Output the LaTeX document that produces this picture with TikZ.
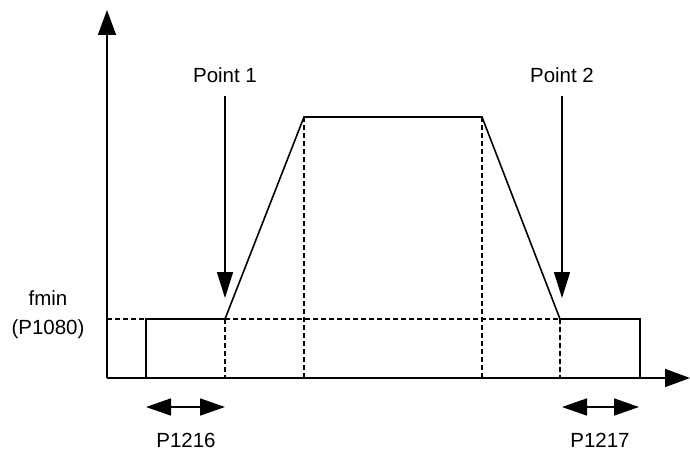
\documentclass[tikz,border=0pt]{standalone}
\usepackage{fontspec}
\setmainfont{Liberation Sans}
\usetikzlibrary{arrows.meta}
\begin{document}
\begin{tikzpicture}[x=1pt,y=-1pt,line width=1.6pt,font=\fontsize{20.5}{29}\selectfont,
	bigtip/.style={-{Triangle[length=25pt 0 0,width=18pt 0 0]}},
	ptip/.style={-{Triangle[length=26pt 0 0,width=16pt 0 0]}},
	span/.style={{Triangle[length=25pt 0 0,width=17pt 0 0]}-{Triangle[length=25pt 0 0,width=17pt 0 0]}},
	guide/.style={dash pattern=on 5pt off 3pt,line width=1.3pt}]
	\useasboundingbox (0,0) rectangle (690,452);
	\path (107,378) coordinate (O)
	(107,10) coordinate (Y)
	(690,378) coordinate (X)
	(107,319) coordinate (F)
	(146,319) coordinate (A) (146,378) coordinate (A_0)
	(225,319) coordinate (B) (225,378) coordinate (B_0)
	(304,117) coordinate (C) (304,378) coordinate (C_0)
	(482,117) coordinate (D) (482,378) coordinate (D_0)
	(560,319) coordinate (E) (560,378) coordinate (E_0)
	(640,319) coordinate (G) (640,378) coordinate (G_0);
	% axes
	\draw[bigtip] (O)--(Y);
	\draw[bigtip] (O)--(X);
	% profile
	\draw (A_0)--(A)--(B)--(C)--(D)--(E)--(G)--(G_0);
	\draw[guide] (F)--(A) (B)--(E);
	\foreach \x in {B,C,D,E}{
		\draw[guide] (\x)--(\x_0);
	}
	% labels
	\node[align=center] (fmin) at (48,315) {fmin\\(P1080)};
	\node (pt1) at (225,75) {Point 1};
	\node (pt2) at (562,75) {Point 2};
	\draw[ptip,shorten <=9pt] (pt1.south)--(225,298);
	\draw[ptip,shorten <=9pt] (pt2.south)--(562,298);
	\node (p16) at (186,440) {P1216};
	\node (p17) at (600,440) {P1217};
	\path (146,407) coordinate (s1) (225,407) coordinate (s2)
	(562,407) coordinate (s3) (639,407) coordinate (s4);
	\draw[span] (s1)--(s2);
	\draw[span] (s3)--(s4);
\end{tikzpicture}
\end{document}
